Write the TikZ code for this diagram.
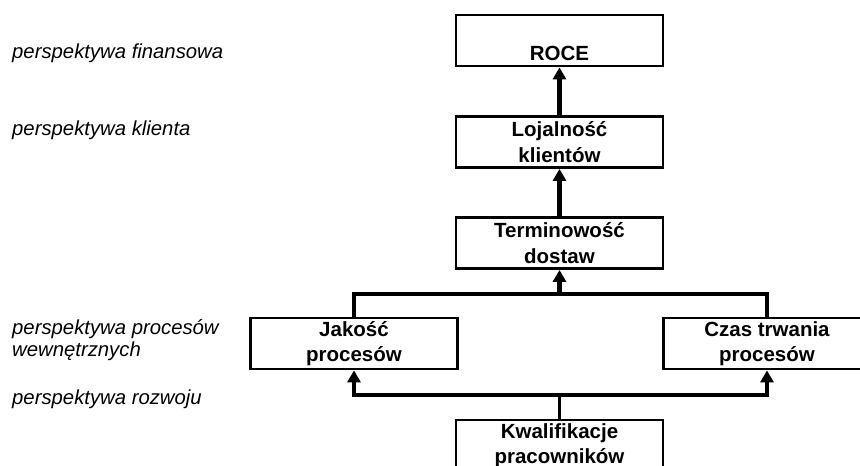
\documentclass[tikz,border=0pt]{standalone}
\usepackage{fontspec}
\setmainfont{Liberation Sans}
\usepackage{tikz}
\usetikzlibrary{arrows.meta}
\tikzstyle{chart}=[x=1pt, y=-1pt, >={Triangle[width=13pt,length=12pt]}]
\tikzstyle{box}=[rectangle, draw, line width=2.8pt, minimum width=207pt, minimum height=51pt, inner sep=0pt, align=center, font=\fontsize{20.5}{25.5}\selectfont\bfseries]
\tikzstyle{persp}=[anchor=west, inner sep=0pt, align=left, font=\fontsize{20.3}{22.5}\selectfont\itshape]
\tikzstyle{edge}=[->, line width=5pt]
\tikzstyle{subedge}=[->, line width=3.5pt]
\tikzstyle{pipe}=[-, line width=3.5pt]

\begin{document}
\begin{tikzpicture}[chart]
	\useasboundingbox (0,0) rectangle (860,466);
	\clip (0,0) rectangle (860,466);

	% perspektywy
	\node[persp] (lfin) at (12,53) {perspektywa finansowa};
	\node[persp] (lkli) at (12,130) {perspektywa klienta};
	\node[persp] (lproc) at (12,340) {perspektywa procesów\\wewnętrznych};
	\node[persp] (lroz) at (12,399) {perspektywa rozwoju};

	% mierniki
	\node[box] (roce) at (559.5,40.5) {\mbox{}\\[14pt]ROCE};
	\node[box] (lojal) at (559.5,142) {Lojalność\\klientów};
	\node[box] (term) at (559.5,243) {Terminowość\\dostaw};
	\node[box] (jakosc) at (354,343.5) {Jakość\\procesów};
	\node[box] (czas) at (767,343.5) {Czas trwania\\procesów};
	\node[box] (kwal) at (559.5,445.5) {Kwalifikacje\\pracowników};

	\coordinate (top) at (559.5,294);
	\coordinate (bot) at (559.5,395);

	\draw[edge] (lojal) -- (roce);
	\draw[edge] (term) -- (lojal);
	\draw[pipe] (jakosc.north) |- (top) -| (czas.north);
	\draw[edge] (top) -- (term);

	%The lower fork
	\draw[pipe] (kwal.north) -- (bot);
	\draw[subedge] (bot) -| (jakosc.south);
	\draw[subedge] (bot) -| (czas.south);
\end{tikzpicture}
\end{document}
